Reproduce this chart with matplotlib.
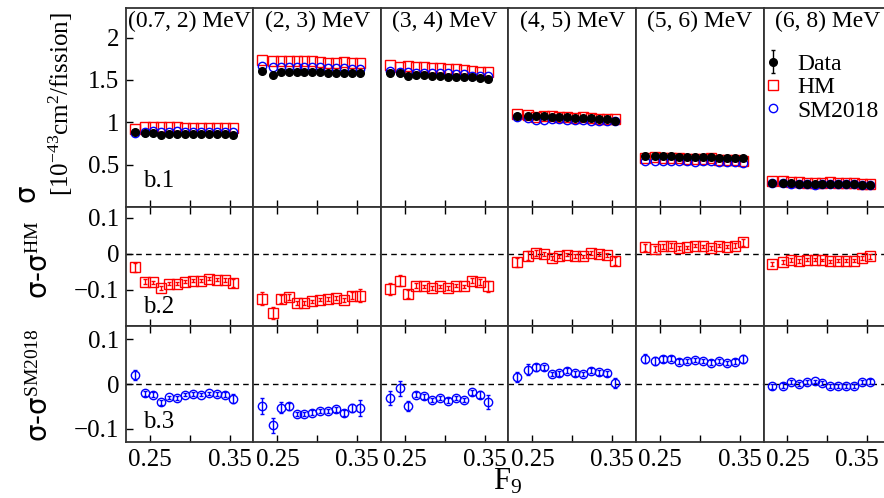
import numpy as np
import matplotlib
matplotlib.use('Agg')
import matplotlib.pyplot as plt

plt.rcParams['font.family'] = 'serif'
plt.rcParams['font.serif'] = ['Liberation Serif', 'DejaVu Serif']
plt.rcParams['mathtext.fontset'] = 'custom'
plt.rcParams['mathtext.rm'] = 'Liberation Serif'
plt.rcParams['mathtext.it'] = 'Liberation Serif:italic'
plt.rcParams['mathtext.sf'] = 'DejaVu Sans'

## values
f9 = [0.231, 0.244, 0.254, 0.264, 0.274, 0.284, 0.294, 0.304, 0.314, 0.324, 0.334, 0.344, 0.354]
bins = ['(0.7, 2) MeV', '(2, 3) MeV', '(3, 4) MeV', '(4, 5) MeV', '(5, 6) MeV', '(6, 8) MeV']

data_07_2 = [0.89, 0.87, 0.87, 0.85, 0.86, 0.86, 0.86, 0.86, 0.86, 0.86, 0.86, 0.86, 0.85]
data_2_3 = [1.61, 1.56, 1.60, 1.60, 1.59, 1.59, 1.59, 1.59, 1.58, 1.58, 1.58, 1.58, 1.58]
data_3_4 = [1.58, 1.58, 1.55, 1.56, 1.56, 1.55, 1.55, 1.54, 1.54, 1.53, 1.53, 1.52, 1.51]
data_4_5 = [1.08, 1.08, 1.07, 1.07, 1.06, 1.06, 1.06, 1.05, 1.05, 1.05, 1.04, 1.04, 1.02]
data_5_6 = [0.60, 0.60, 0.60, 0.60, 0.59, 0.59, 0.59, 0.59, 0.59, 0.58, 0.58, 0.58, 0.58]
data_6_8 = [0.28, 0.28, 0.28, 0.27, 0.27, 0.27, 0.27, 0.27, 0.27, 0.27, 0.27, 0.26, 0.26]

# sigma - sigma^HM
dhm_07_2 = [-0.037, -0.077, -0.079, -0.095, -0.083, -0.083, -0.077, -0.074, -0.074, -0.069, -0.072, -0.072, -0.081]
dhm_2_3 = [-0.125, -0.164, -0.125, -0.120, -0.136, -0.136, -0.132, -0.127, -0.125, -0.122, -0.128, -0.116, -0.116]
dhm_3_4 = [-0.097, -0.074, -0.111, -0.088, -0.090, -0.095, -0.090, -0.095, -0.088, -0.090, -0.074, -0.079, -0.090]
dhm_4_5 = [-0.023, -0.005, 0.002, 0.000, -0.011, -0.007, -0.002, -0.006, -0.007, 0.002, 0.000, -0.003, -0.020]
dhm_5_6 = [0.018, 0.014, 0.021, 0.023, 0.017, 0.018, 0.023, 0.021, 0.017, 0.023, 0.020, 0.023, 0.032]
dhm_6_8 = [-0.028, -0.023, -0.017, -0.020, -0.016, -0.016, -0.017, -0.021, -0.019, -0.019, -0.019, -0.012, -0.007]

# sigma - sigma^SM2018
dsm_07_2 = [0.020, -0.021, -0.024, -0.041, -0.030, -0.032, -0.024, -0.022, -0.024, -0.021, -0.022, -0.024, -0.033]
dsm_2_3 = [-0.050, -0.093, -0.053, -0.050, -0.067, -0.067, -0.064, -0.061, -0.061, -0.057, -0.065, -0.053, -0.054]
dsm_3_4 = [-0.031, -0.010, -0.050, -0.024, -0.028, -0.036, -0.031, -0.037, -0.031, -0.036, -0.019, -0.024, -0.041]
dsm_4_5 = [0.016, 0.032, 0.037, 0.037, 0.022, 0.024, 0.030, 0.024, 0.022, 0.030, 0.026, 0.024, 0.002]
dsm_5_6 = [0.057, 0.052, 0.056, 0.057, 0.050, 0.052, 0.054, 0.052, 0.048, 0.052, 0.047, 0.050, 0.056]
dsm_6_8 = [-0.005, -0.004, 0.004, 0.000, 0.004, 0.006, 0.002, -0.004, -0.004, -0.004, -0.004, 0.004, 0.005]

# data uncertainties
err_07_2 = [0.012, 0.006, 0.005, 0.005, 0.004, 0.004, 0.004, 0.004, 0.004, 0.004, 0.004, 0.005, 0.010]
err_2_3 = [0.018, 0.016, 0.012, 0.008, 0.005, 0.005, 0.005, 0.005, 0.005, 0.006, 0.006, 0.009, 0.018]
err_3_4 = [0.016, 0.016, 0.011, 0.006, 0.005, 0.005, 0.005, 0.005, 0.005, 0.005, 0.006, 0.008, 0.016]
err_4_5 = [0.012, 0.012, 0.008, 0.006, 0.005, 0.005, 0.005, 0.005, 0.005, 0.005, 0.005, 0.006, 0.012]
err_5_6 = [0.010, 0.009, 0.007, 0.006, 0.005, 0.005, 0.005, 0.005, 0.005, 0.005, 0.005, 0.006, 0.009]
err_6_8 = [0.006, 0.006, 0.005, 0.005, 0.004, 0.004, 0.004, 0.004, 0.004, 0.004, 0.004, 0.005, 0.006]

data = [data_07_2, data_2_3, data_3_4, data_4_5, data_5_6, data_6_8]
dhm = [dhm_07_2, dhm_2_3, dhm_3_4, dhm_4_5, dhm_5_6, dhm_6_8]
dsm = [dsm_07_2, dsm_2_3, dsm_3_4, dsm_4_5, dsm_5_6, dsm_6_8]
errs = [err_07_2, err_2_3, err_3_4, err_4_5, err_5_6, err_6_8]

W, H = 884, 498
fig = plt.figure(figsize=(W / 100, H / 100), dpi=100)

x0, colw = 126, 127.5
rows = [(8, 207), (207, 326), (326, 442)]
ylims = [(0, 2.35), (-0.2, 0.13), (-0.13, 0.13)]
yticks = [[0.5, 1, 1.5, 2], [-0.1, 0, 0.1], [-0.1, 0, 0.1]]
yticklabels = [['0.5', '1', '1.5', '2'], ['\u22120.1', '0', '0.1'], ['\u22120.1', '0', '0.1']]
tags = ['b.1', 'b.2', 'b.3']
tag_y = [0.075, 0.067, 0.077]

for r, (ytop, ybot) in enumerate(rows):
    for c in range(6):
        left = (x0 + colw * c) / W
        ax = fig.add_axes([left, 1 - ybot / H, colw / W, (ybot - ytop) / H])
        d = np.array(data[c])
        e = np.array(errs[c])
        if r == 0:
            hm = d - np.array(dhm[c])
            sm = d - np.array(dsm[c])
            ax.plot(f9, hm, 's', ms=6.5, mfc='none', mec='red', mew=1, label='HM')
            ax.plot(f9, sm, 'o', ms=6, mfc='none', mec='blue', mew=1, label='SM2018')
            ax.errorbar(f9, d, yerr=e, fmt='o', ms=5.5, color='black', elinewidth=1,
                        capsize=1.5, label='Data', zorder=3)
            ax.text(0.5, 0.985, bins[c], transform=ax.transAxes, ha='center', va='top', fontsize=17)
            if c == 5:
                hs, ls = ax.get_legend_handles_labels()
                order = [2, 0, 1]
                ax.legend([hs[i] for i in order], [ls[i] for i in order], loc='upper left',
                          bbox_to_anchor=(-0.07, 0.82), frameon=False, fontsize=17,
                          handlelength=0.8, handletextpad=0.6, labelspacing=0.08,
                          borderaxespad=0)
        elif r == 1:
            ax.axhline(0, color='black', lw=1, ls=(0, (4, 3)), zorder=1)
            ax.errorbar(f9, dhm[c], yerr=e, fmt='s', ms=6.5, mfc='none', mec='red', mew=1,
                        ecolor='red', elinewidth=1, capsize=1.5)
        else:
            ax.axhline(0, color='black', lw=1, ls=(0, (4, 3)), zorder=1)
            ax.errorbar(f9, dsm[c], yerr=e, fmt='o', ms=6, mfc='none', mec='blue', mew=1,
                        ecolor='blue', elinewidth=1, capsize=1.5)

        ax.set_xlim(0.22, 0.38)
        ax.set_ylim(*ylims[r])
        ax.set_xticks([0.25, 0.30, 0.35])
        if r == 2 and c < 5:
            ax.set_xticklabels(['0.25', '', '0.35'])
        elif r == 2:
            # last label sits a little left of its tick so it stays inside the picture
            ax.set_xticklabels(['0.25', '', ''])
            ax.annotate('0.35', xy=(0.35, 0), xycoords=('data', 'axes fraction'),
                        xytext=(-7, -5), textcoords='offset points',
                        ha='center', va='top', fontsize=18)
        else:
            ax.set_xticklabels([])
        ax.set_yticks(yticks[r])
        if c == 0:
            ax.set_yticklabels(yticklabels[r])
            ax.text(0.133, tag_y[r], tags[r], transform=ax.transAxes, ha='left', va='bottom', fontsize=18)
        else:
            ax.set_yticklabels([])
        ax.tick_params(axis='x', direction='in', length=5, width=1, labelsize=18, pad=5,
                       bottom=True, top=(r > 0))
        ax.tick_params(axis='y', direction='in', length=5, width=1, labelsize=18, pad=5,
                       left=(c == 0), right=(c == 5))
        for sp in ax.spines.values():
            sp.set_color('#333333')
            sp.set_linewidth(1.3)

fig.text(27 / W, 1 - 193 / H, '\u03c3', rotation=90, ha='center', va='center',
         family='DejaVu Sans', fontsize=20)
fig.text(61 / W, 1 - 104 / H, '[10$^{-43}$cm$^{2}$/fission]', rotation=90,
         ha='center', va='center', fontsize=18)
fig.text(40 / W, 1 - 260 / H, '\u03c3-\u03c3$^{\\mathrm{HM}}$', rotation=90,
         ha='center', va='center', family='DejaVu Sans', fontsize=20)
fig.text(40 / W, 1 - 385 / H, '\u03c3-\u03c3$^{\\mathrm{SM2018}}$', rotation=90,
         ha='center', va='center', family='DejaVu Sans', fontsize=20)
fig.text(508 / W, 1 - 489 / H, 'F$_{9}$', ha='center', va='baseline', fontsize=22)

plt.savefig('out.png', dpi=100)
